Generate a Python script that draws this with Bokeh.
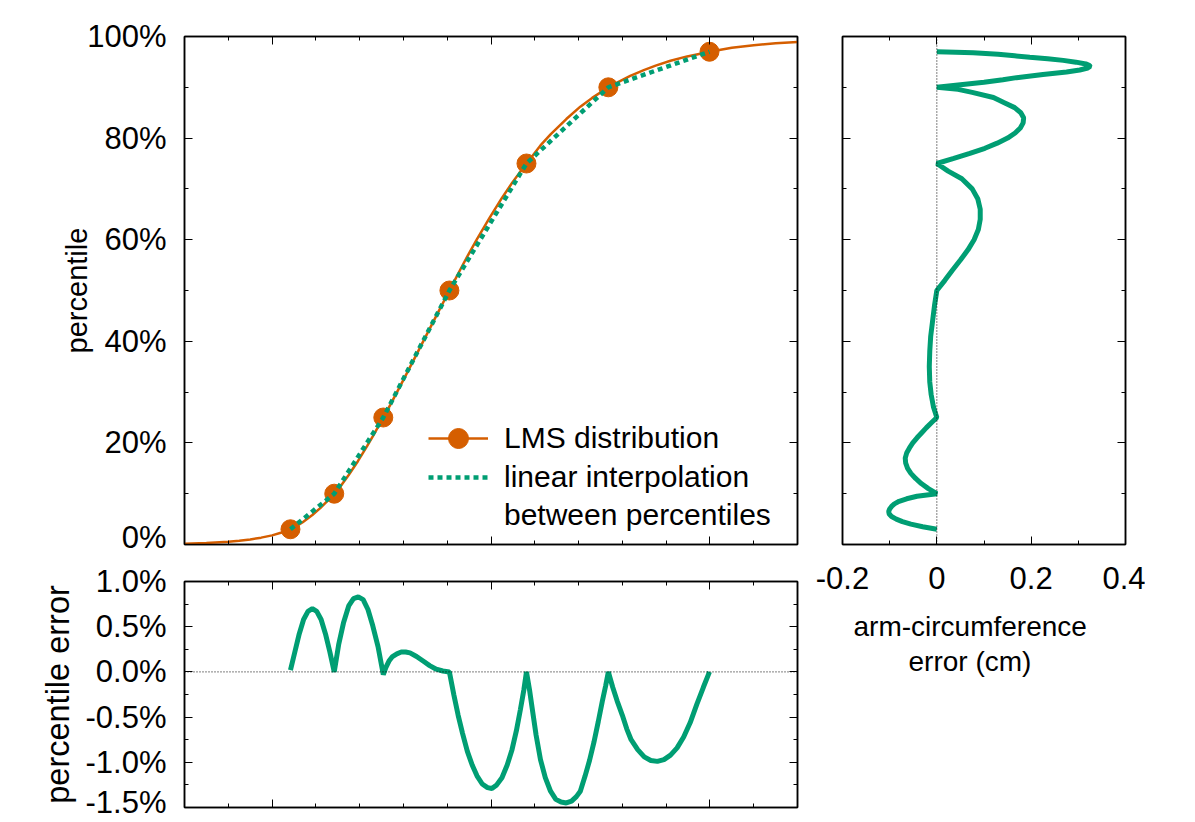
from bokeh.plotting import figure
from bokeh.models import (Range1d, FixedTicker, LinearAxis, Legend, LegendItem,
                          Span, Title, CustomJSTickFormatter)
from bokeh.layouts import row, column
from bokeh.embed import file_html
from bokeh.resources import INLINE

# ---------------- data ----------------
# LMS percentile points: arm circumference (cm) and percentile (%)
pt_x = [15.42, 16.42, 17.54, 19.05, 20.81, 22.68, 24.99]
pt_pct = [3, 10, 25, 50, 75, 90, 97]

# LMS cumulative distribution curve
lms_x = [13.0, 13.5, 14.0, 14.25, 14.5, 14.75, 15.0, 15.2, 15.42, 15.5, 15.7, 15.92,
         16.1, 16.26, 16.42, 16.56, 16.75, 16.96, 17.17, 17.32, 17.54, 17.7, 18.0,
         18.3, 18.7, 19.05, 19.15, 19.3, 19.46, 19.68, 19.97, 20.25, 20.48, 20.67,
         20.81, 20.94, 21.13, 21.36, 21.72, 22.04, 22.31, 22.54, 22.68, 22.88, 23.18,
         23.49, 23.76, 24.1, 24.48, 24.78, 24.99, 25.5, 26.0, 26.5, 27.0]
lms_pct = [0.15, 0.3, 0.55, 0.75, 1.0, 1.35, 1.8, 2.3, 3.0, 3.3, 4.38, 5.8,
           7.17, 8.55, 10.0, 11.43, 13.68, 16.4, 19.35, 21.57, 25.0, 27.5, 32.4,
           37.42, 44.16, 50.0, 51.64, 54.14, 56.7, 60.12, 64.36, 68.22, 71.16, 73.4,
           75.0, 76.44, 78.56, 80.73, 83.75, 86.19, 87.91, 89.2, 90.0, 90.93, 92.26,
           93.38, 94.26, 95.22, 96.08, 96.61, 97.0, 97.8, 98.3, 98.65, 98.9]

# percentile error of linear interpolation (%), vs arm circumference (cm)
perr_x = [15.42, 15.52, 15.62, 15.72, 15.82, 15.92, 16.02, 16.12, 16.22, 16.32,
          16.42, 16.52, 16.63, 16.75, 16.86, 16.97, 17.08, 17.19, 17.30, 17.42,
          17.54, 17.6, 17.67, 17.75, 17.85, 17.95, 18.05, 18.15, 18.3, 18.45, 18.6,
          18.75, 18.9, 19.05, 19.15, 19.25, 19.35, 19.46, 19.57, 19.68, 19.8, 19.92,
          20.02, 20.13, 20.25, 20.37, 20.48, 20.58, 20.67, 20.75, 20.81, 20.88, 20.94,
          21.03, 21.13, 21.24, 21.36, 21.48, 21.6, 21.72, 21.84, 21.95, 22.04, 22.15,
          22.25, 22.35, 22.45, 22.54, 22.62, 22.68, 22.78, 22.88, 23.0, 23.1, 23.2,
          23.35, 23.5, 23.65, 23.8, 23.95, 24.1, 24.25, 24.4, 24.55, 24.7, 24.85, 24.99]
perr_val = [0.02, 0.22, 0.42, 0.58, 0.67, 0.70, 0.67, 0.58, 0.42, 0.22,
            0.0, 0.30, 0.54, 0.73, 0.81, 0.83, 0.80, 0.69, 0.51, 0.28,
            -0.03, 0.05, 0.12, 0.17, 0.20, 0.22, 0.22, 0.21, 0.17, 0.12, 0.07,
            0.03, 0.01, 0.0, -0.25, -0.48, -0.68, -0.88, -1.03, -1.15, -1.24, -1.28,
            -1.29, -1.25, -1.17, -1.03, -0.86, -0.65, -0.42, -0.20, 0.0, -0.20, -0.40,
            -0.70, -0.97, -1.17, -1.32, -1.41, -1.44, -1.45, -1.43, -1.38, -1.32, -1.15,
            -0.98, -0.78, -0.55, -0.33, -0.15, 0.0, -0.17, -0.32, -0.48, -0.63, -0.75,
            -0.86, -0.94, -0.98, -0.99, -0.97, -0.92, -0.84, -0.72, -0.56, -0.36, -0.17, 0.0]

# arm-circumference error (cm) of linear interpolation, vs percentile (%)
aerr_pct = [3.0, 3.5, 4.0, 4.5, 5.0, 5.5, 6.0, 6.5, 7.0, 7.5, 8.0, 8.5, 9.0, 9.5,
            10.0, 11.0, 12.0, 13.0, 14.0, 15.0, 16.0, 17.0, 18.0, 19.0, 20.0, 21.0,
            22.0, 23.0, 24.0, 25.0, 27.0, 29.5, 32.0, 35.0, 38.0, 41.0, 44.0, 47.0,
            50.0, 52.0, 54.0, 56.0, 58.0, 60.0, 62.0, 64.0, 66.0, 68.0, 70.0, 72.0,
            73.5, 75.0, 76.0, 77.0, 78.0, 79.0, 80.0, 81.0, 82.0, 83.0, 84.0, 85.0,
            86.0, 87.0, 88.0, 89.0, 89.6, 90.0, 90.5, 91.0, 91.5, 91.9, 92.5, 93.0,
            93.4, 93.8, 94.1, 94.3, 94.6, 94.95, 95.3, 95.6, 95.9, 96.2, 96.5, 96.8,
            96.9, 97.0]
aerr_val = [0.0, -0.03, -0.055, -0.073, -0.086, -0.096, -0.101, -0.102, -0.1, -0.096,
            -0.09, -0.08, -0.064, -0.042, 0.0, -0.018, -0.033, -0.045, -0.055, -0.062,
            -0.066, -0.067, -0.064, -0.058, -0.051, -0.042, -0.032, -0.022, -0.011, 0.0,
            -0.007, -0.012, -0.015, -0.016, -0.015, -0.013, -0.009, -0.005, 0.0,
            0.017, 0.033, 0.05, 0.066, 0.079, 0.088, 0.092, 0.092, 0.087, 0.075, 0.053,
            0.024, 0.0, 0.036, 0.07, 0.102, 0.128, 0.15, 0.166, 0.177, 0.183, 0.184,
            0.178, 0.165, 0.142, 0.12, 0.075, 0.045, 0.0, 0.05, 0.1, 0.14, 0.169,
            0.225, 0.275, 0.303, 0.32, 0.325, 0.324, 0.316, 0.295, 0.268, 0.235, 0.197,
            0.165, 0.13, 0.077, 0.04, 0.0]

pct_ticks = [0, 20, 40, 60, 80, 100]
pct_labels = ["0%", "20%", "40%", "60%", "80%", "100%"]
perr_ticks = [-1.5, -1.0, -0.5, 0.0, 0.5, 1.0]
perr_labels = ["-1.5%", "-1.0%", "-0.5%", "0.0%", "0.5%", "1.0%"]
cm_ticks = [15, 20, 25]
aerr_ticks = [-0.2, 0.0, 0.2, 0.4]
aerr_labels = ["-0.2", "0", "0.2", "0.4"]
aerr_title = ["arm-circumference", "error (cm)"]

# ---------------- styling ----------------
ORANGE = "#D55E00"
GREEN = "#009E73"
FONT = "Liberation Sans"
TICK_FS = "31px"


def style_axis(ax, labels=True):
    ax.axis_line_color = "black"
    ax.axis_line_width = 1.5
    ax.major_tick_in = 8
    ax.major_tick_out = 0
    ax.minor_tick_in = 4
    ax.minor_tick_out = 0
    ax.major_tick_line_color = "black"
    ax.minor_tick_line_color = "black"
    ax.major_label_text_font = FONT
    ax.major_label_text_font_size = TICK_FS
    ax.major_label_text_color = "black"
    ax.axis_label_text_font = FONT
    ax.axis_label_text_font_size = "29px"
    ax.axis_label_text_font_style = "normal"
    ax.axis_label_text_color = "black"
    if not labels:
        ax.formatter = CustomJSTickFormatter(code="return ''")
        ax.major_label_standoff = 0


def base_fig(xr, yr, fw, fh, bl, br, bt, bb):
    f = figure(output_backend="svg", toolbar_location=None,
               frame_width=fw, frame_height=fh, x_range=xr, y_range=yr,
               min_border_left=bl, min_border_right=br,
               min_border_top=bt, min_border_bottom=bb,
               x_axis_location=None, y_axis_location=None)
    f.xgrid.visible = False
    f.ygrid.visible = False
    f.outline_line_color = "black"
    f.outline_line_width = 1.5
    f.background_fill_color = "white"
    f.border_fill_color = "white"
    return f


def add_axis(f, side, ticks, minor, overrides=None, labels=True):
    ax = LinearAxis(ticker=FixedTicker(ticks=ticks, minor_ticks=minor))
    style_axis(ax, labels)
    if labels and overrides:
        ax.major_label_overrides = overrides
    f.add_layout(ax, side)
    return ax


cm_minor = list(range(13, 28))
pct_minor = list(range(0, 101, 10))
perr_minor = [-1.5 + 0.25 * i for i in range(11)]
aerr_minor = [-0.2 + 0.1 * i for i in range(7)]

# ---------------- main panel ----------------
p = base_fig(Range1d(13, 27), Range1d(0, 100), 613, 508, 184, 10, 36, 10)
ay = add_axis(p, "left", pct_ticks, pct_minor,
              {t: l for t, l in zip(pct_ticks, pct_labels)})
ay.major_label_standoff = 18
ay.axis_label = "percentile"
ay.axis_label_standoff = -9
add_axis(p, "right", pct_ticks, pct_minor, labels=False)
add_axis(p, "below", cm_ticks, cm_minor, labels=False)
add_axis(p, "above", cm_ticks, cm_minor, labels=False)

r_lms = p.line(lms_x, lms_pct, line_color=ORANGE, line_width=2.5)
r_pts = p.scatter(pt_x, pt_pct, size=19, fill_color=ORANGE, line_color=ORANGE)
r_lin = p.line(pt_x, pt_pct, line_color=GREEN, line_width=4.5, line_dash="5 4")
r_blank = p.line([], [], line_alpha=0)


def make_legend(items, loc, gh):
    lg = Legend(items=items, location=loc)
    lg.background_fill_alpha = 0
    lg.border_line_alpha = 0
    lg.padding = 0
    lg.margin = 0
    lg.glyph_width = 60
    lg.glyph_height = gh
    lg.spacing = 0
    lg.label_standoff = 16
    lg.label_text_font = FONT
    lg.label_text_font_size = "30px"
    lg.label_text_color = "black"
    lg.label_height = gh
    return lg


p.add_layout(make_legend(
    [LegendItem(label="LMS distribution", renderers=[r_lms, r_pts])], (244, 81), 50))
p.add_layout(make_legend(
    [LegendItem(label="linear interpolation", renderers=[r_lin]),
     LegendItem(label="between percentiles", renderers=[r_blank])], (244, 10), 38))

# ---------------- bottom panel ----------------
pb = base_fig(p.x_range, Range1d(-1.5, 1.0), 613, 226, 184, 10, 27, 12)
by = add_axis(pb, "left", perr_ticks, perr_minor,
              {t: l for t, l in zip(perr_ticks, perr_labels)})
by.major_label_standoff = 18
by.axis_label = "percentile error"
by.axis_label_text_font_size = "32.5px"
by.axis_label_standoff = 7
add_axis(pb, "right", perr_ticks, perr_minor, labels=False)
add_axis(pb, "below", cm_ticks, cm_minor, labels=False)
add_axis(pb, "above", cm_ticks, cm_minor, labels=False)
pb.add_layout(Span(location=0, dimension="width", line_color="black",
                   line_width=1, line_dash="1 2"))
pb.line(perr_x, perr_val, line_color=GREEN, line_width=5)

# ---------------- right panel ----------------
pr = base_fig(Range1d(-0.2, 0.4), Range1d(0, 100), 283, 508, 35, 20, 36, 140)
ax_r = add_axis(pr, "below", aerr_ticks, aerr_minor,
                {t: l for t, l in zip(aerr_ticks, aerr_labels)})
ax_r.major_label_standoff = 22
add_axis(pr, "above", aerr_ticks, aerr_minor, labels=False)
add_axis(pr, "left", pct_ticks, pct_minor, labels=False)
add_axis(pr, "right", pct_ticks, pct_minor, labels=False)
pr.add_layout(Span(location=0, dimension="height", line_color="black",
                   line_width=1, line_dash="1 2"))
pr.line(aerr_val, aerr_pct, line_color=GREEN, line_width=5)
for txt, off, so in zip(aerr_title, [11, 66], [34, -36]):
    pr.add_layout(Title(text=txt, align="left", offset=off, standoff=so,
                        text_font=FONT, text_font_size="28px",
                        text_font_style="normal", text_color="black"), "below")

layout = row(column(p, pb), pr)
open("out.html", "w").write(file_html(layout, INLINE))
